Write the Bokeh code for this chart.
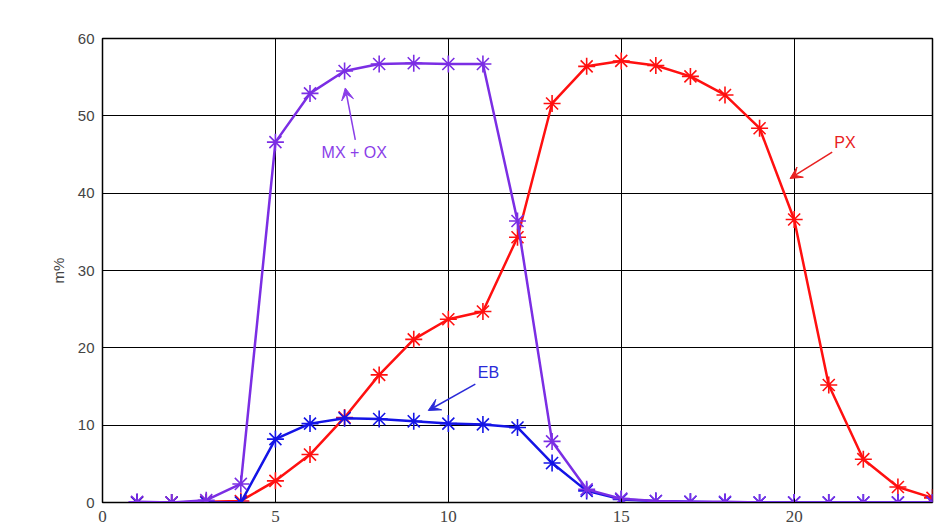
from bokeh.plotting import figure
from bokeh.models import Arrow, VeeHead, Label, FixedTicker, Range1d, ColumnDataSource
from bokeh.embed import file_html
from bokeh.resources import INLINE

x_vals = list(range(1, 25))
px = [0.0, 0.0, 0.1, 0.2, 2.8, 6.2, 11.0, 16.5, 21.1, 23.7, 24.7, 34.3,
      51.6, 56.4, 57.1, 56.5, 55.1, 52.7, 48.4, 36.6, 15.2, 5.6, 2.0, 0.6]
mxox = [0.1, 0.0, 0.3, 2.4, 46.6, 52.9, 55.8, 56.7, 56.8, 56.7, 56.7, 36.4,
        7.9, 1.7, 0.5, 0.2, 0.1, 0.1, 0.0, 0.0, 0.0, 0.0, 0.0, 0.0]
eb = [0.0, 0.0, 0.0, 0.0, 8.2, 10.2, 10.9, 10.8, 10.5, 10.2, 10.1, 9.7,
      5.1, 1.5, 0.4, 0.2, 0.1, 0.0, 0.0, 0.0, 0.0, 0.0, 0.0, 0.0]
x_ticks = [0, 5, 10, 15, 20]
y_ticks = [0, 10, 20, 30, 40, 50, 60]

RED = "#ff1010"
PURPLE = "#7b2ee4"
BLUE = "#1414e6"

p = figure(output_backend="svg", toolbar_location=None,
           width=938, height=526,
           x_range=Range1d(0, 24), y_range=Range1d(0, 60))
p.frame_width = 830
p.frame_height = 464
p.min_border_left = 102
p.min_border_right = 6
p.min_border_top = 38
p.min_border_bottom = 24
p.background_fill_color = "white"
p.border_fill_color = "white"
p.outline_line_color = "black"
p.outline_line_width = 1.5

p.xaxis.ticker = FixedTicker(ticks=x_ticks)
p.yaxis.ticker = FixedTicker(ticks=y_ticks)
for ax in (p.xaxis, p.yaxis):
    ax.axis_line_color = "black"
    ax.major_tick_in = 4
    ax.major_tick_out = 0
    ax.minor_tick_line_color = None
    ax.major_tick_line_color = "black"
p.xaxis.major_label_text_font = "Liberation Serif"
p.xaxis.major_label_text_font_size = "17px"
p.xaxis.major_label_standoff = 8
p.yaxis.major_label_text_font = "Liberation Sans"
p.yaxis.major_label_text_font_size = "15px"
p.yaxis.major_label_standoff = 8
p.yaxis.axis_label = "m%"
p.yaxis.axis_label_text_font = "Liberation Sans"
p.yaxis.axis_label_text_font_style = "normal"
p.yaxis.axis_label_text_font_size = "15px"
p.yaxis.axis_label_standoff = 8

p.xgrid.grid_line_color = "black"
p.ygrid.grid_line_color = "black"
p.xgrid.grid_line_width = 1
p.ygrid.grid_line_width = 1

src = ColumnDataSource(dict(x=x_vals, px=px, mxox=mxox, eb=eb))
for col, color in (("px", RED), ("eb", BLUE), ("mxox", PURPLE)):
    p.line("x", col, source=src, line_color=color, line_width=2.5)
    p.scatter("x", col, source=src, marker="asterisk", size=17,
              line_color=color, line_width=1.6)

# annotations: (text, text_x, text_y, tail_x, tail_y, head_x, head_y, color)
annotations = [
    ("MX + OX", 7.28, 45.3, 7.31, 46.9, 7.02, 53.6, "#8a3ee8"),
    ("PX", 21.47, 46.6, 21.1, 45.3, 19.88, 41.9, "#e82020"),
    ("EB", 11.16, 16.8, 10.78, 15.3, 9.42, 11.9, "#2a2ad8"),
]
for text, tx, ty, x0, y0, x1, y1, color in annotations:
    p.add_layout(Label(x=tx, y=ty, text=text, text_color=color,
                       text_font="Liberation Sans", text_font_size="16px",
                       text_align="center", text_baseline="middle"))
    p.add_layout(Arrow(x_start=x0, y_start=y0, x_end=x1, y_end=y1,
                       line_color=color, line_width=1.5,
                       end=VeeHead(size=12, fill_color=color, line_color=color)))

open("out.html", "w").write(file_html(p, INLINE))
